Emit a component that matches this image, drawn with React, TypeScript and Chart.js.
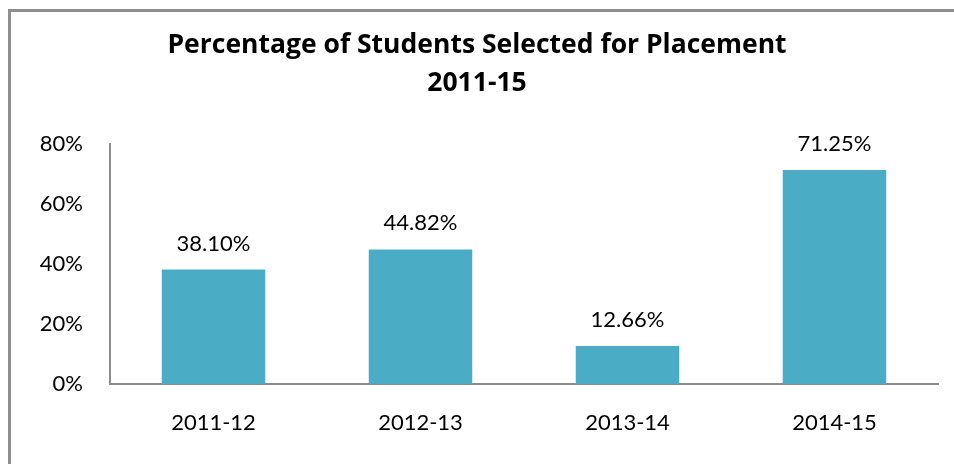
import React, { useEffect, useRef } from "react";
import { Chart, registerables } from "chart.js";

Chart.register(...registerables);

const categories = ["2011-12", "2012-13", "2013-14", "2014-15"];
const values = [38.1, 44.82, 12.66, 71.25];
const titleLines = ["Percentage of Students Selected for Placement", "2011-15"];
const yMin = 0;
const yMax = 80;
const yStep = 20;

const FONT = "Lato, 'Open Sans', sans-serif";
const TITLE_FONT = "'Open Sans', Lato, sans-serif";
const AXIS_COLOR = "#8c8c8c";
const BAR_COLOR = "#4bacc6";

const dataLabelPlugin = {
  id: "dataLabels",
  afterDatasetsDraw(chart: any) {
    const ctx = chart.ctx;
    const meta = chart.getDatasetMeta(0);
    ctx.save();
    ctx.font = `22px ${FONT}`;
    ctx.fillStyle = "#000";
    ctx.textAlign = "center";
    ctx.textBaseline = "alphabetic";
    meta.data.forEach((bar: any, i: number) => {
      const v = chart.data.datasets[0].data[i] as number;
      ctx.fillText(v.toFixed(2) + "%", bar.x, bar.y - 19);
    });
    ctx.restore();
  },
};

export default function App() {
  const ref = useRef<HTMLCanvasElement | null>(null);
  useEffect(() => {
    document.body.style.margin = "0";
    const chart = new Chart(ref.current!, {
      type: "bar",
      data: {
        labels: categories,
        datasets: [
          {
            data: values,
            backgroundColor: BAR_COLOR,
            categoryPercentage: 1,
            barPercentage: 0.5,
          },
        ],
      },
      options: {
        animation: false,
        responsive: false,
        layout: { padding: { left: 16, right: 16, top: 0, bottom: 0 } },
        plugins: {
          legend: { display: false },
          tooltip: { enabled: false },
          title: {
            display: true,
            text: titleLines,
            color: "#000",
            font: { family: TITLE_FONT, size: 26.5, weight: "bold", lineHeight: 1.43 },
            padding: { top: 27, bottom: 41 },
          },
        },
        scales: {
          x: {
            grid: { display: false, drawTicks: false },
            border: { display: true, color: AXIS_COLOR, width: 2 },
            ticks: { color: "#000", font: { family: FONT, size: 22 }, padding: 26 },
            afterFit: (s: any) => {
              s.height = 80;
            },
          },
          y: {
            min: yMin,
            max: yMax,
            grid: { display: false, drawTicks: false },
            border: { display: true, color: AXIS_COLOR, width: 2 },
            ticks: {
              stepSize: yStep,
              color: "#000",
              font: { family: FONT, size: 22 },
              padding: 27,
              callback: (v: any) => v + "%",
            },
            afterFit: (s: any) => {
              s.width = 94;
            },
          },
        },
      },
      plugins: [dataLabelPlugin],
    });
    return () => chart.destroy();
  }, []);
  return (
    <div style={{ position: "relative", width: 954, height: 464, overflow: "hidden", background: "#fff" }}>
      <canvas ref={ref} width={954} height={464} style={{ position: "absolute", left: 0, top: 0 }} />
      <div
        style={{
          position: "absolute",
          left: 8,
          top: 9,
          width: 1000,
          height: 1000,
          borderLeft: "3px solid #8e8e8e",
          borderTop: "3px solid #8e8e8e",
          pointerEvents: "none",
        }}
      />
    </div>
  );
}
